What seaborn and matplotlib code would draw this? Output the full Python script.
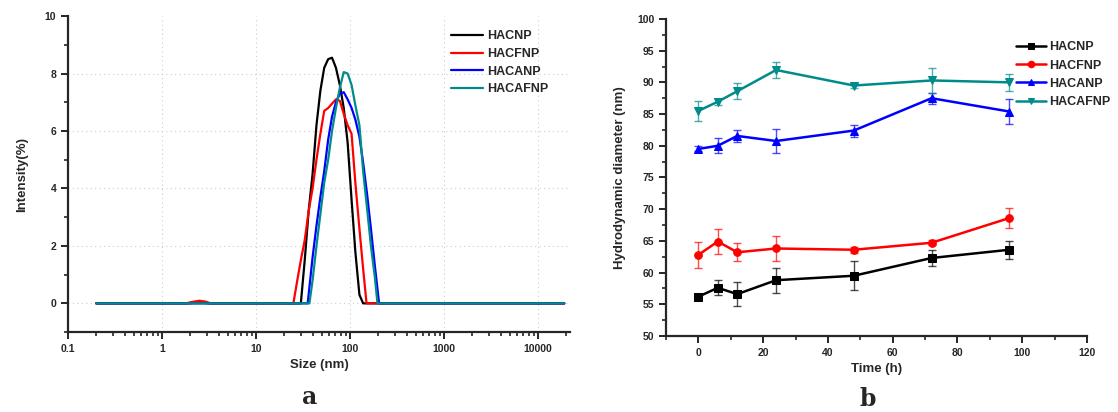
import numpy as np
import pandas as pd
import seaborn as sns
import matplotlib.pyplot as plt
from matplotlib.ticker import MultipleLocator, LogLocator, NullFormatter, FixedLocator

# size distribution (panel a)
names = ['HACNP', 'HACFNP', 'HACANP', 'HACAFNP']
colors = ['#000000', '#ff0000', '#0000ff', '#008b8b']

size_hacnp = [0.2, 1.9, 2.5, 3.2, 30.0, 33.0, 36.3, 40.0, 44.0, 48.4, 53.2, 58.6, 64.4, 70.9,
              78.0, 85.8, 94.4, 104, 114, 126, 138, 19000]
int_hacnp = [0, 0, 0.03, 0, 0, 1.5, 3.2, 4.5, 6.2, 7.4, 8.2, 8.5, 8.55, 8.2,
             7.6, 6.8, 5.6, 3.6, 1.8, 0.3, 0, 0]

size_hacfnp = [0.2, 1.8, 2.1, 2.5, 2.9, 3.3, 25.0, 27.5, 30.0, 33.0, 36.3, 40.0, 44.0, 48.4,
               53.2, 58.6, 64.4, 70.9, 78.0, 85.8, 94.4, 104, 114, 126, 138, 150, 19000]
int_hacfnp = [0, 0, 0.05, 0.09, 0.06, 0, 0, 0.8, 1.5, 2.2, 3.2, 4.0, 5.0, 5.9,
              6.7, 6.8, 6.95, 7.1, 7.05, 6.6, 6.2, 5.9, 4.2, 2.6, 1.2, 0, 0]

size_hacanp = [0.2, 35.5, 36.3, 40.0, 44.0, 48.4, 53.2, 58.6, 64.4, 70.9, 78.0, 85.8, 94.4,
               104, 114, 126, 138, 152, 167, 184, 204, 19000]
int_hacanp = [0, 0, 0.3, 1.6, 2.7, 3.7, 4.6, 5.7, 6.5, 7.0, 7.3, 7.35, 7.1,
              6.8, 6.4, 5.8, 4.9, 3.8, 2.6, 1.3, 0, 0]

size_hacafnp = [0.2, 37.0, 40.0, 44.0, 48.4, 53.2, 58.6, 64.4, 70.9, 78.0, 85.8, 94.4, 104,
                114, 126, 138, 152, 167, 184, 196, 19000]
int_hacafnp = [0, 0, 0.8, 2.0, 3.1, 4.2, 5.0, 6.0, 6.8, 7.5, 8.05, 8.0, 7.6,
               6.9, 6.2, 4.6, 3.3, 2.0, 0.9, 0, 0]

# stability over time (panel b)
time_h = [0, 6, 12, 24, 48, 72, 96]
d_hacnp = [56.2, 57.6, 56.6, 58.8, 59.5, 62.3, 63.6]
e_hacnp = [0.5, 1.2, 1.9, 2.0, 2.3, 1.3, 1.4]
d_hacfnp = [62.8, 64.9, 63.2, 63.8, 63.6, 64.7, 68.6]
e_hacfnp = [2.1, 2.0, 1.4, 1.9, 0.5, 0.4, 1.6]
d_hacanp = [79.5, 80.0, 81.55, 80.75, 82.4, 87.5, 85.4]
e_hacanp = [0.4, 1.2, 1.0, 1.9, 0.95, 0.9, 2.0]
d_hacafnp = [85.5, 86.95, 88.6, 91.95, 89.5, 90.3, 90.0]
e_hacafnp = [1.6, 0.5, 1.3, 1.3, 0.4, 1.9, 1.3]

sns.set_style('ticks')
plt.rcParams['font.family'] = ['Liberation Sans', 'DejaVu Sans']
plt.rcParams['font.weight'] = 'bold'

fig = plt.figure(figsize=(11.18, 4.12), dpi=100)
ax1 = fig.add_axes([0.0608, 0.194, 0.4492, 0.767])
ax2 = fig.add_axes([0.5957, 0.1845, 0.3766, 0.7695])

# ---- panel a
dist = pd.concat([
    pd.DataFrame({'size': size_hacnp, 'intensity': int_hacnp, 'sample': 'HACNP'}),
    pd.DataFrame({'size': size_hacfnp, 'intensity': int_hacfnp, 'sample': 'HACFNP'}),
    pd.DataFrame({'size': size_hacanp, 'intensity': int_hacanp, 'sample': 'HACANP'}),
    pd.DataFrame({'size': size_hacafnp, 'intensity': int_hacafnp, 'sample': 'HACAFNP'}),
])
sns.lineplot(data=dist, x='size', y='intensity', hue='sample', hue_order=names,
             palette=colors, estimator=None, sort=False, linewidth=1.6, ax=ax1)
ax1.set_xscale('log')
ax1.set_xlim(0.1, 22000)
ax1.set_ylim(-1, 10)
ax1.yaxis.set_major_locator(FixedLocator([0, 2, 4, 6, 8, 10]))
ax1.yaxis.set_minor_locator(MultipleLocator(1))
ax1.xaxis.set_minor_locator(LogLocator(base=10, subs=np.arange(2, 10), numticks=20))
ax1.xaxis.set_minor_formatter(NullFormatter())
ax1.set_xticks([0.1, 1, 10, 100, 1000, 10000])
ax1.set_xticklabels(['0.1', '1', '10', '100', '1000', '10000'])
for v in [0, 2, 4, 6, 8]:
    ax1.axhline(v, color='#cccccc', lw=0.8, ls=(0, (1, 3)), zorder=0)
for v in [1, 10, 100, 1000, 10000]:
    ax1.axvline(v, color='#cccccc', lw=0.8, ls=(0, (1, 3)), zorder=0)
ax1.set_xlabel('Size (nm)', fontsize=9.5, fontweight='bold')
ax1.set_ylabel('Intensity(%)', fontsize=9.5, fontweight='bold', labelpad=12)
h, l = ax1.get_legend_handles_labels()
ax1.legend(h, l, loc='upper left', bbox_to_anchor=(0.74, 0.99), frameon=False,
           handlelength=2.6, handletextpad=0.3, labelspacing=0.45,
           prop={'weight': 'bold', 'size': 9})

# ---- panel b
series = [(d_hacnp, e_hacnp, 's'), (d_hacfnp, e_hacfnp, 'o'),
          (d_hacanp, e_hacanp, '^'), (d_hacafnp, e_hacafnp, 'v')]
for (d, e, m), name, c in zip(series, names, colors):
    ax2.errorbar(time_h, d, yerr=e, fmt='none', ecolor=c, elinewidth=1, capsize=3,
                 capthick=1, alpha=0.7)
    sns.lineplot(x=time_h, y=d, color=c, marker=m, markersize=5.5, markeredgecolor=c,
                 linewidth=1.8, label=name, ax=ax2)
ax2.set_xlim(-10, 120)
ax2.set_ylim(50, 100)
ax2.xaxis.set_major_locator(MultipleLocator(20))
ax2.xaxis.set_minor_locator(MultipleLocator(10))
ax2.yaxis.set_major_locator(MultipleLocator(5))
ax2.yaxis.set_minor_locator(MultipleLocator(2.5))
ax2.set_xlabel('Time (h)', fontsize=9.5, fontweight='bold')
ax2.set_ylabel('Hydrodynamic diameter (nm)', fontsize=9.5, fontweight='bold', labelpad=8)
ax2.legend(loc='upper left', bbox_to_anchor=(0.805, 0.965), frameon=False,
           handlelength=2.4, handletextpad=0.25, labelspacing=0.5, markerscale=0.85,
           prop={'weight': 'bold', 'size': 9})

for ax in (ax1, ax2):
    sns.despine(ax=ax)
    for s in ('left', 'bottom'):
        ax.spines[s].set_linewidth(1.6)
    ax.tick_params(which='major', length=5, width=1.4, labelsize=7.5)
    ax.tick_params(which='minor', length=3, width=1.2)
    for t in ax.get_xticklabels() + ax.get_yticklabels():
        t.set_fontweight('bold')

fig.text(0.277, 0.02, 'a', fontsize=17, fontweight='bold', family='DejaVu Serif', ha='center')
fig.text(0.776, 0.015, 'b', fontsize=17, fontweight='bold', family='DejaVu Serif', ha='center')

fig.savefig('out.png', dpi=100)
